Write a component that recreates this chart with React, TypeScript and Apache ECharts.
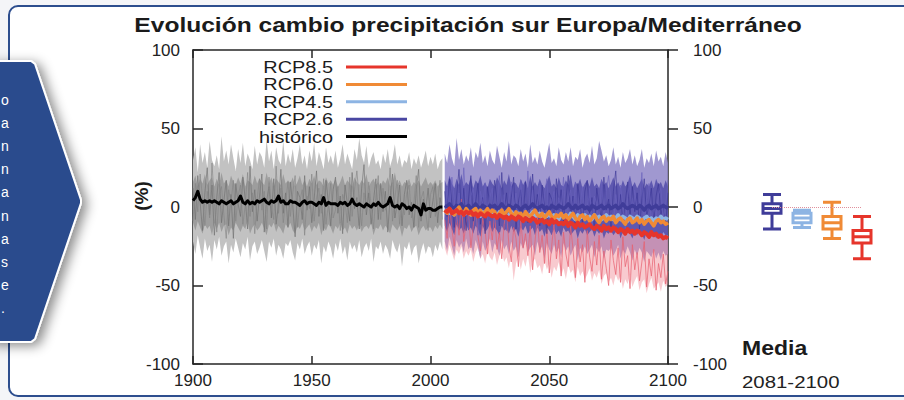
import React, { useEffect, useRef } from 'react';
import * as echarts from 'echarts';

// ---------- data ----------
const HIST_START = 1900;
const FUT_START = 2006;

// historical ensemble mean (black)
const histMean = [
  4, 6, 10, 5, 3, 4, 3, 4, 3, 4,
  3, 2, 4, 3, 2, 3, 4, 2, 3, 4,
  7, 3, 2, 4, 2, 3, 2, 4, 3, 4,
  5, 3, 2, 4, 3, 4, 7, 3, 4, 2,
  2, 4, 3, 3, 2, 1, 3, 4, 2, 3,
  3, 2, 1, 3, 2, 6, 1, 3, 2, 2,
  2, 1, 3, 2, 3, 1, 2, 5, 2, 1,
  2, 1, 0, 2, 1, 0, 2, 1, 3, 1,
  0, 1, 2, 6, 1, 0, 1, -1, 2, 1,
  -1, 0, -2, 1, 0, -1, -5, 2, -2, -1,
  -1, -2, -2, -1, 0, 0,
];
// historical ensemble spread (grey), outer extremes
const histHi = [
  30, 38, 22, 40, 28, 35, 25, 42, 30, 26,
  33, 24, 45, 29, 36, 27, 40, 31, 23, 37,
  28, 41, 26, 34, 30, 24, 39, 27, 35, 32,
  25, 43, 29, 36, 24, 38, 30, 27, 42, 26,
  34, 28, 37, 25, 31, 40, 27, 33, 24, 36,
  29, 41, 26, 35, 30, 24, 38, 28, 33, 27,
  36, 25, 31, 40, 27, 34, 29, 24, 37, 30,
  44, 33, 28, 39, 25, 31, 35, 27, 30, 24,
  34, 28, 37, 26, 31, 40, 27, 33, 25, 30,
  28, 35, 24, 31, 27, 33, 25, 30, 36, 26,
  32, 27, 34, 24, 29, 31,
];
const histLo = [
  -22, -30, -18, -26, -33, -20, -28, -24, -35, -21,
  -27, -19, -31, -25, -22, -36, -24, -29, -20, -26,
  -32, -23, -27, -19, -34, -25, -22, -30, -26, -21,
  -28, -35, -22, -26, -20, -31, -24, -27, -33, -23,
  -25, -21, -29, -34, -23, -27, -20, -30, -25, -22,
  -31, -24, -27, -21, -36, -25, -29, -22, -26, -33,
  -23, -28, -20, -30, -25, -34, -22, -27, -24, -29,
  -21, -32, -26, -23, -28, -20, -35, -25, -27, -22,
  -30, -24, -27, -33, -21, -26, -29, -23, -38, -25,
  -27, -22, -31, -26, -24, -36, -28, -23, -30, -25,
  -26, -32, -24, -28, -22, -27,
];
// historical spread, dense core
const histInHi = [
  16, 20, 13, 18, 15, 21, 14, 17, 19, 13,
  18, 14, 22, 15, 17, 13, 20, 16, 14, 19,
  15, 21, 13, 17, 16, 14, 20, 15, 18, 16,
  14, 22, 15, 19, 13, 18, 16, 14, 21, 15,
  17, 15, 19, 13, 16, 20, 14, 17, 13, 18,
  15, 20, 14, 17, 16, 13, 19, 15, 17, 14,
  18, 13, 16, 20, 14, 17, 15, 13, 19, 16,
  14, 17, 15, 21, 13, 16, 18, 14, 16, 13,
  17, 15, 19, 13, 16, 22, 14, 17, 13, 16,
  15, 18, 13, 16, 14, 17, 13, 16, 19, 14,
  16, 14, 17, 13, 15, 16,
];
const histInLo = [
  -10, -15, -9, -13, -17, -11, -14, -12, -18, -10,
  -14, -10, -16, -12, -11, -18, -13, -15, -10, -13,
  -16, -12, -14, -9, -17, -13, -11, -15, -13, -10,
  -14, -18, -11, -13, -10, -16, -12, -14, -17, -11,
  -13, -10, -15, -17, -12, -14, -10, -15, -13, -11,
  -16, -12, -14, -10, -18, -13, -15, -11, -13, -17,
  -12, -14, -10, -15, -13, -17, -11, -14, -12, -15,
  -11, -16, -13, -12, -14, -10, -18, -13, -14, -11,
  -15, -12, -14, -17, -11, -13, -15, -12, -19, -13,
  -14, -11, -16, -13, -12, -18, -14, -12, -15, -13,
  -13, -16, -12, -14, -11, -14,
];
// two individual historical runs (grey spaghetti)
const histRunA = [
  12, -8, 20, 3, -15, 9, 25, -5, 14, -18,
  6, 22, -10, 4, 17, -12, 8, -20, 15, 2,
  -6, 19, 5, -14, 26, -3, 11, -9, 7, 21,
  -16, 4, 13, -7, 18, -11, 2, 24, -4, 9,
  -13, 16, 1, -19, 10, 6, -8, 20, -2, 13,
  -10, 5, 23, -6, 8, -15, 17, 3, -12, 11,
  19, -4, 7, -17, 14, 2, -9, 22, -1, 6,
  -14, 12, 27, -5, 9, -11, 4, 18, -8, 15,
  -3, 10, -16, 6, 21, -7, 2, 14, -12, 8,
  17, -5, 3, -13, 11, 24, -9, 5, -2, 12,
  -7, 4, 15, -10, 6, -3,
];
const histRunB = [
  -9, 15, -3, 21, 6, -12, 10, -7, 28, 2,
  -16, 8, 13, -5, -20, 11, 3, 17, -9, 7,
  14, -11, 1, 22, -6, 9, -17, 5, 18, -2,
  10, -14, 19, 0, -8, 26, -4, 12, -10, 3,
  16, -6, 9, 20, -13, 4, 11, -18, 7, -1,
  21, -9, 6, 12, -4, 18, -11, 2, 15, -7,
  -2, 13, -15, 8, 3, -10, 19, -6, 11, 23,
  5, -12, 9, -3, 16, 1, -14, 7, 20, -8,
  12, -2, 4, 25, -9, 6, 17, -11, 3, -5,
  9, 14, -7, 2, 20, -13, 5, 10, -4, -15,
  8, 13, -6, 3, 17, -8,
];

// scenario ensemble means 2006-2100
const rcp26 = [
  1, 0, 2, 0, -1, 1, 0, 2, -1, 0,
  1, -1, 0, 2, 0, -1, 1, 0, -2, 1,
  0, 1, -1, 0, 2, 0, -1, 1, 0, -1,
  1, 0, -2, 0, 1, -1, 0, 2, 0, -1,
  0, 1, -1, 0, -2, 1, 0, -1, 1, 0,
  -1, 0, 2, 0, -1, 1, -1, 0, 1, -1,
  0, -2, 1, 0, -1, 0, 1, -1, 0, 1,
  -1, 0, 1, -1, 0, 2, 0, -1, 0, 1,
  0, -1, 1, 0, -2, 0, 1, -1, 0, 1,
  -1, 0, 1, 0, -1,
];
const rcp45 = [
  -3, -2, -4, -3, -5, -2, -4, -3, -5, -4,
  -3, -5, -4, -2, -4, -6, -3, -5, -4, -3,
  -5, -4, -6, -3, -5, -4, -6, -5, -3, -5,
  -6, -4, -5, -7, -4, -6, -5, -3, -6, -5,
  -4, -7, -5, -6, -4, -7, -5, -6, -8, -5,
  -6, -5, -7, -4, -6, -8, -5, -7, -6, -5,
  -7, -6, -8, -5, -7, -6, -8, -7, -5, -7,
  -6, -8, -7, -5, -8, -6, -7, -9, -6, -7,
  -8, -6, -7, -9, -7, -6, -8, -7, -9, -7,
  -8, -6, -8, -7, -8,
];
const rcp60 = [
  -2, -4, -1, -3, -5, -2, 0, -3, -4, -1,
  -3, -5, -2, -1, -4, -2, -5, -3, -1, -4,
  -2, -3, -6, -4, -2, -5, -3, -1, -4, -6,
  -3, -5, -4, -7, -3, -5, -6, -4, -2, -5,
  -6, -4, -7, -5, -3, -6, -8, -5, -6, -4,
  -7, -5, -8, -6, -4, -7, -9, -6, -5, -8,
  -6, -9, -7, -5, -8, -10, -7, -6, -9, -7,
  -8, -6, -10, -8, -7, -9, -11, -8, -7, -10,
  -9, -7, -10, -8, -11, -9, -8, -10, -12, -9,
  -8, -10, -9, -11, -10,
];
const rcp85 = [
  -2, -3, -1, -4, -3, -2, -4, -3, -5, -3,
  -4, -3, -5, -4, -6, -4, -5, -6, -4, -5,
  -6, -5, -7, -5, -6, -7, -6, -8, -6, -7,
  -8, -6, -7, -9, -7, -8, -9, -7, -8, -10,
  -9, -8, -10, -9, -11, -8, -10, -9, -11, -10,
  -11, -9, -12, -10, -11, -13, -10, -12, -11, -13,
  -12, -11, -13, -14, -12, -13, -15, -12, -14, -13,
  -15, -13, -14, -16, -14, -15, -17, -14, -16, -15,
  -17, -15, -16, -18, -16, -17, -19, -16, -18, -17,
  -19, -18, -20, -19, -20,
];

// scenario ensemble spread 2006-2100
const futHi = [
  34, 28, 40, 31, 26, 44, 30, 37, 27, 33,
  29, 38, 25, 35, 31, 41, 28, 33, 26, 36,
  30, 27, 39, 32, 25, 35, 29, 42, 27, 33,
  31, 26, 37, 29, 34, 25, 40, 28, 32, 27,
  36, 29, 25, 33, 41, 28, 31, 26, 38, 30,
  27, 35, 29, 38, 26, 32, 30, 37, 25, 31,
  34, 28, 39, 27, 31, 42, 36, 29, 33, 26,
  30, 38, 27, 32, 25, 35, 28, 31, 37, 27,
  33, 26, 30, 37, 25, 31, 28, 34, 26, 36,
  29, 32, 26, 35, 28,
];
const futLo = [
  -22, -28, -19, -25, -31, -21, -26, -23, -29, -20,
  -27, -24, -30, -21, -26, -33, -22, -28, -25, -20,
  -29, -23, -26, -31, -21, -27, -24, -30, -22, -28,
  -25, -32, -23, -27, -21, -29, -26, -24, -31, -22,
  -28, -25, -33, -23, -27, -30, -24, -29, -26, -32,
  -23, -28, -25, -31, -27, -24, -34, -26, -29, -25,
  -30, -27, -24, -32, -26, -29, -25, -33, -27, -28,
  -26, -31, -28, -24, -33, -27, -30, -25, -29, -34,
  -27, -31, -26, -29, -35, -28, -30, -32, -27, -33,
  -29, -34, -28, -31, -30,
];
const futInHi = [
  17, 13, 20, 15, 12, 18, 14, 21, 13, 16,
  14, 19, 12, 17, 15, 20, 13, 16, 12, 18,
  15, 13, 19, 16, 12, 17, 14, 21, 13, 16,
  15, 12, 18, 14, 17, 12, 20, 13, 16, 13,
  18, 14, 12, 16, 20, 13, 15, 12, 19, 14,
  13, 17, 14, 21, 12, 16, 14, 18, 12, 15,
  17, 13, 19, 13, 15, 12, 18, 14, 16, 12,
  15, 19, 13, 16, 12, 17, 13, 15, 20, 13,
  16, 12, 15, 18, 12, 15, 13, 17, 12, 18,
  14, 16, 12, 17, 13,
];
const futInLo = [
  -12, -16, -10, -14, -18, -11, -15, -13, -17, -11,
  -15, -13, -17, -12, -14, -19, -12, -16, -14, -11,
  -16, -13, -15, -18, -12, -15, -14, -17, -12, -16,
  -14, -19, -13, -15, -12, -17, -15, -13, -18, -13,
  -16, -14, -19, -13, -15, -18, -14, -17, -15, -19,
  -13, -16, -15, -18, -16, -14, -20, -15, -17, -14,
  -18, -16, -14, -19, -15, -17, -14, -20, -16, -17,
  -15, -18, -16, -14, -20, -16, -18, -14, -17, -20,
  -16, -18, -15, -17, -21, -16, -18, -19, -16, -20,
  -17, -20, -16, -18, -18,
];
// RCP8.5 members reaching further down
const redLo = [
  -26, -31, -24, -29, -34, -27, -30, -25, -33, -28,
  -31, -27, -35, -29, -26, -33, -30, -36, -28, -32,
  -34, -29, -37, -31, -28, -35, -32, -39, -30, -47,
  -36, -31, -40, -33, -38, -30, -42, -35, -33, -39,
  -37, -43, -34, -40, -36, -45, -38, -41, -35, -44,
  -39, -46, -37, -42, -40, -48, -38, -44, -41, -46,
  -43, -39, -47, -42, -45, -40, -49, -44, -42, -48,
  -45, -50, -43, -47, -44, -52, -46, -49, -43, -51,
  -47, -44, -53, -48, -46, -55, -49, -45, -52, -50,
  -48, -54, -47, -51, -49,
];
// individual scenario runs (spaghetti)
const futRunA = [
  10, -6, 18, 2, -13, 7, 24, -4, 12, -15,
  5, 20, -9, 3, 15, -11, 6, -17, 13, 1,
  -5, 17, 4, -12, 22, -3, 9, -8, 6, 19,
  -14, 3, 11, -6, 16, -10, 1, 21, -4, 8,
  -12, 14, 0, -17, 9, 5, -7, 18, -2, 11,
  -9, 4, 20, -6, 7, -14, 15, 2, -11, 10,
  17, -4, 6, -15, 12, 1, -8, 19, -2, 5,
  -13, 10, 23, -5, 8, -10, 3, 16, -7, 13,
  -3, 9, -14, 5, 18, -6, 1, 12, -11, 7,
  15, -5, 2, -12, 9,
];
const futRunB = [
  -8, 13, -2, 19, 5, -10, 9, -6, 25, 1,
  -14, 7, 12, -4, -18, 10, 2, 15, -8, 6,
  12, -10, 0, 20, -6, 8, -15, 4, 16, -2,
  9, -13, 17, -1, -8, 23, -4, 11, -10, 2,
  14, -6, 8, 18, -12, 3, 10, -17, 6, -2,
  19, -9, 5, 11, -5, 16, -11, 1, 13, -8,
  -3, 12, -15, 7, 2, -11, 17, -7, 10, 20,
  4, -12, 8, -4, 14, 0, -14, 6, 18, -9,
  11, -3, 3, 22, -10, 5, 15, -12, 2, -6,
  8, 12, -8, 1, 17,
];
const futRunRed = [
  -8, -20, 2, -14, -25, -5, -18, 5, -22, -10,
  -3, -26, -12, 0, -19, -28, -7, -15, -30, -9,
  -21, -4, -27, -16, -33, -11, -2, -24, -35, -13,
  -20, -38, -8, -26, -17, -31, -12, -40, -22, -6,
  -29, -18, -36, -14, -42, -25, -10, -33, -21, -44,
  -16, -30, -38, -12, -27, -45, -20, -35, -24, -48,
  -15, -32, -41, -22, -37, -18, -46, -28, -39, -50,
  -21, -34, -43, -26, -48, -19, -38, -31, -52, -24,
  -40, -29, -47, -35, -22, -51, -33, -44, -27, -53,
  -36, -45, -30, -49, -41,
];

// 2081-2100 mean change: [min, Q1, median, Q3, max]
const boxCats = ['RCP2.6', 'RCP4.5', 'RCP6.0', 'RCP8.5'];
const boxStats = [
  [-14, -4, -1, 2, 8],
  [-13, -10, -7, -4, -2],
  [-20, -14, -10, -6, 3],
  [-33, -23, -19, -15, -6],
];

const yTicks = [-100, -50, 0, 50, 100];
const xTicks = [1900, 1950, 2000, 2050, 2100];

const legendNames = ['RCP8.5', 'RCP6.0', 'RCP4.5', 'RCP2.6', 'histórico'];
const panelLetters = ['o', 'a', 'n', 'n', 'a', 'n', 'a', 's', 'e', '.'];

// ---------- styling ----------
const C85 = '#e6352b';
const C60 = '#f08a35';
const C45 = '#8db4e3';
const C26 = '#3f3c99';
const CHIST = '#000000';
const legendColors = [C85, C60, C45, '#4a47a2', CHIST];
const boxColors = [C26, C45, C60, C85];
const FONT = '"Liberation Sans", Arial, Helvetica, sans-serif';

function toPairs(start: number, arr: number[]) {
  return arr.map((v, i) => [start + i, v]);
}

function bandSeries(name: string, start: number, hi: number[], lo: number[], color: string, opacity: number) {
  return {
    name,
    type: 'custom',
    xAxisIndex: 0,
    yAxisIndex: 0,
    silent: true,
    clip: true,
    data: [[start, 0]],
    encode: { x: 0, y: 1 },
    renderItem: (_params: any, api: any) => {
      const pts: number[][] = [];
      hi.forEach((v, i) => pts.push(api.coord([start + i, v])));
      for (let i = lo.length - 1; i >= 0; i--) pts.push(api.coord([start + i, lo[i]]));
      return { type: 'polygon', shape: { points: pts }, style: { fill: color, opacity } };
    },
  };
}

function lineSeries(name: string, start: number, arr: number[], color: string, width: number, opacity = 1) {
  return {
    name,
    type: 'line',
    xAxisIndex: 0,
    yAxisIndex: 0,
    data: toPairs(start, arr),
    symbol: 'none',
    silent: true,
    lineStyle: { color, width, opacity, join: 'round' },
  };
}

export default function App() {
  const ref = useRef<HTMLDivElement>(null);

  useEffect(() => {
    document.body.style.margin = '0';
    if (!ref.current) return;
    const chart = echarts.init(ref.current, null, { renderer: 'svg' });

    const axisLineStyle = { color: '#262626', width: 1.5 };
    const labelStyle = { fontSize: 17, color: '#222', fontFamily: FONT };

    const graphics: any[] = [
      {
        type: 'rect', z: -10, silent: true,
        shape: { x: 9, y: 6, width: 920, height: 390, r: 9 },
        style: { fill: '#ffffff', stroke: '#2d4e8e', lineWidth: 2 },
      },
      {
        type: 'polygon', z: 100, silent: true,
        shape: { points: [[-12, 61], [31, 61], [35, 64], [81, 200], [81, 203], [35, 339], [31, 342], [-12, 342]] },
        style: {
          fill: '#2b4c8d', stroke: '#ffffff', lineWidth: 2,
          shadowBlur: 12, shadowColor: 'rgba(0,0,0,0.45)', shadowOffsetX: 5, shadowOffsetY: 3,
        },
      },
      ...panelLetters.map((t, i) => ({
        type: 'text', z: 101, silent: true,
        x: 1, y: 100 + i * 23.1,
        style: { text: t, fill: '#ffffff', fontSize: 14, fontFamily: FONT, textAlign: 'left', textVerticalAlign: 'middle' },
      })),
      {
        type: 'text', z: 50, silent: true,
        x: 468, y: 25, scaleX: 1.17,
        style: {
          text: 'Evolución cambio precipitación sur Europa/Mediterráneo',
          fill: '#1b1b1b', fontSize: 21, fontWeight: 'bold', fontFamily: FONT,
          textAlign: 'center', textVerticalAlign: 'middle',
        },
      },
      {
        type: 'text', z: 50, silent: true,
        x: 141, y: 196, rotation: Math.PI / 2,
        style: {
          text: '(%)', fill: '#1b1b1b', fontSize: 19, fontWeight: 'bold', fontFamily: FONT,
          textAlign: 'center', textVerticalAlign: 'middle',
        },
      },
      ...legendNames.flatMap((name, i) => {
        const y = 67 + i * 17.4;
        return [
          {
            type: 'text', z: 60, silent: true,
            x: 333, y, scaleX: 1.17,
            style: { text: name, fill: '#1b1b1b', fontSize: 17, fontFamily: FONT, textAlign: 'right', textVerticalAlign: 'middle' },
          },
          {
            type: 'line', z: 60, silent: true,
            shape: { x1: 346, y1: y, x2: 407, y2: y },
            style: { stroke: legendColors[i], lineWidth: 3 },
          },
        ];
      }),
      {
        type: 'text', z: 50, silent: true,
        x: 742, y: 348, scaleX: 1.15,
        style: { text: 'Media', fill: '#1b1b1b', fontSize: 20, fontWeight: 'bold', fontFamily: FONT, textAlign: 'left', textVerticalAlign: 'middle' },
      },
      {
        type: 'text', z: 50, silent: true,
        x: 742, y: 382, scaleX: 1.2,
        style: { text: '2081-2100', fill: '#222', fontSize: 17, fontFamily: FONT, textAlign: 'left', textVerticalAlign: 'middle' },
      },
    ];

    chart.setOption({
      animation: false,
      backgroundColor: '#f4f5f8',
      textStyle: { fontFamily: FONT },
      grid: [
        { left: 193, top: 50, width: 475, height: 314 },
        { left: 757, top: 50, width: 120, height: 314 },
      ],
      xAxis: [
        {
          type: 'value', gridIndex: 0, position: 'bottom',
          min: xTicks[0], max: xTicks[xTicks.length - 1], interval: 50,
          axisLine: { onZero: false, lineStyle: axisLineStyle },
          axisTick: { inside: true, length: 8, lineStyle: axisLineStyle },
          axisLabel: { ...labelStyle, margin: 8, formatter: (v: number) => String(v) },
          splitLine: { show: false },
        },
        {
          type: 'value', gridIndex: 0, position: 'top',
          min: xTicks[0], max: xTicks[xTicks.length - 1], interval: 50,
          axisLine: { onZero: false, lineStyle: axisLineStyle },
          axisTick: { inside: true, length: 8, lineStyle: axisLineStyle },
          axisLabel: { show: false },
          splitLine: { show: false },
        },
        {
          type: 'category', gridIndex: 1, data: boxCats, show: false,
        },
      ],
      yAxis: [
        {
          type: 'value', gridIndex: 0, position: 'left',
          min: yTicks[0], max: yTicks[yTicks.length - 1], interval: 50,
          axisLine: { show: true, onZero: false, lineStyle: axisLineStyle },
          axisTick: { show: true, inside: true, length: 10, lineStyle: axisLineStyle },
          axisLabel: { ...labelStyle, margin: 13 },
          splitLine: { show: false },
        },
        {
          type: 'value', gridIndex: 0, position: 'right',
          min: yTicks[0], max: yTicks[yTicks.length - 1], interval: 50,
          axisLine: { show: true, onZero: false, lineStyle: axisLineStyle },
          axisTick: { show: true, inside: false, length: 10, lineStyle: axisLineStyle },
          axisLabel: { ...labelStyle, margin: 25 },
          splitLine: { show: false },
        },
        {
          type: 'value', gridIndex: 1, min: -100, max: 100, show: false,
        },
      ],
      series: [
        bandSeries('histórico (extremos)', HIST_START, histHi, histLo, '#c2c2c2', 1),
        bandSeries('histórico (núcleo)', HIST_START, histInHi, histInLo, '#969696', 0.85),
        lineSeries('histórico (run A)', HIST_START, histRunA, '#6f6f6f', 0.8, 0.8),
        lineSeries('histórico (run B)', HIST_START, histRunB, '#858585', 0.8, 0.8),
        bandSeries('escenarios (extremos)', FUT_START, futHi, futLo, '#8f86c8', 0.85),
        bandSeries('RCP8.5 (miembros)', FUT_START, rcp85, redLo, '#f08a95', 0.45),
        lineSeries('RCP8.5 (run)', FUT_START, futRunRed, '#e8606f', 0.9, 0.8),
        bandSeries('escenarios (núcleo)', FUT_START, futInHi, futInLo, '#4e48a8', 0.8),
        lineSeries('escenarios (run A)', FUT_START, futRunA, '#3a3595', 0.8, 0.8),
        lineSeries('escenarios (run B)', FUT_START, futRunB, '#6a62bd', 0.8, 0.8),
        lineSeries('RCP2.6', FUT_START, rcp26, C26, 3.5),
        lineSeries('RCP4.5', FUT_START, rcp45, C45, 3.5),
        lineSeries('RCP6.0', FUT_START, rcp60, C60, 3.5),
        lineSeries('RCP8.5', FUT_START, rcp85, C85, 4),
        lineSeries('histórico', HIST_START, histMean, CHIST, 3),
        {
          name: 'Media 2081-2100',
          type: 'boxplot',
          xAxisIndex: 2,
          yAxisIndex: 2,
          boxWidth: [18, 18],
          silent: true,
          data: boxStats.map((d, i) => ({
            value: d,
            itemStyle: { color: '#ffffff', borderColor: boxColors[i], borderWidth: 3 },
          })),
          markLine: {
            silent: true,
            symbol: 'none',
            label: { show: false },
            lineStyle: { type: 'dotted', color: '#e0909c', width: 1 },
            data: [[{ coord: [boxCats[0], 0] }, { coord: [boxCats[3], 0] }]],
          },
          z: 3,
        },
      ],
      graphic: graphics,
    });

    return () => chart.dispose();
  }, []);

  return <div ref={ref} style={{ position: 'fixed', left: 0, top: 0, width: 904, height: 400 }} />;
}
